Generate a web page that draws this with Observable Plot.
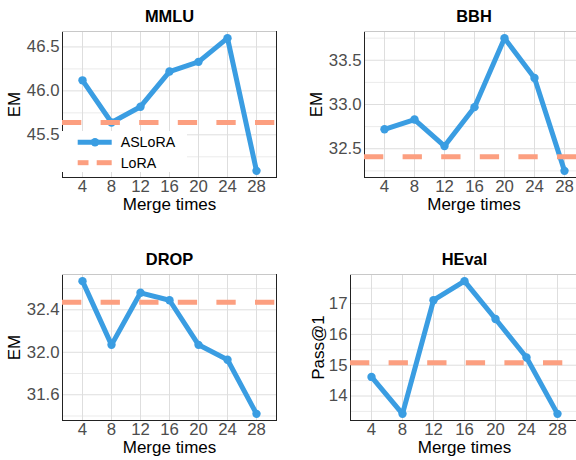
<!DOCTYPE html>
<html>
<head>
<meta charset="utf-8">
<script src="https://cdn.jsdelivr.net/npm/d3@7"></script>
<script src="https://cdn.jsdelivr.net/npm/@observablehq/plot@0.6"></script>
<style>
  body { margin: 0; background: #fff; }
  #wrap { position: relative; width: 576px; height: 460px; overflow: hidden; background: #fff;
          font-family: "Liberation Sans", Arial, sans-serif; }
  .panel { position: absolute; }
  .panel svg { max-width: none !important; }
  #legend { position: absolute; left: 62px; top: 131px; width: 125px; height: 41px; background: #fff; }
</style>
</head>
<body>
<div id="wrap"></div>
<script>
// ---- data ----
const merges = [4, 8, 12, 16, 20, 24, 28];

const mmlu = [46.12, 45.64, 45.82, 46.22, 46.33, 46.60, 45.09];
const mmluLora = 45.64;
const mmluTicks = [45.5, 46.0, 46.5];
const mmluMinor = [45.25, 45.75, 46.25];

const bbh = [32.72, 32.83, 32.53, 32.97, 33.75, 33.30, 32.25];
const bbhLora = 32.41;
const bbhTicks = [32.5, 33.0, 33.5];
const bbhMinor = [32.25, 32.75, 33.25, 33.75];

const drop = [32.67, 32.07, 32.56, 32.49, 32.07, 31.93, 31.42];
const dropLora = 32.47;
const dropTicks = [31.6, 32.0, 32.4];
const dropMinor = [31.4, 31.8, 32.2, 32.6];

const heval = [14.62, 13.42, 17.11, 17.73, 16.50, 15.25, 13.42];
const hevalLora = 15.08;
const hevalTicks = [14, 15, 16, 17];
const hevalMinor = [13.5, 14.5, 15.5, 16.5, 17.5];

const BLUE = "#3a9de2";
const SALMON = "#fc9f80";

function panel(o) {
  const rows = merges.map((m, i) => ({m, v: o.values[i]}));
  const ext = d3.extent([...o.values, o.lora]);
  const pad = (ext[1] - ext[0]) * 0.05;
  const domain = [ext[0] - pad, ext[1] + pad];
  const svg = Plot.plot({
    width: o.width, height: o.height,
    marginLeft: o.ml, marginRight: 12, marginTop: o.mt, marginBottom: o.height - o.mt - o.ph,
    style: {fontFamily: '"Liberation Sans", Arial, sans-serif', fontSize: "16.8px",
            background: "transparent", overflow: "visible", maxWidth: "none"},
    x: {type: "point", domain: merges, padding: 0.6},
    y: {domain},
    marks: [
      Plot.gridY(o.minor, {stroke: "#ebebeb", strokeOpacity: 1, strokeWidth: 1}),
      Plot.gridY(o.ticks, {stroke: "#dedede", strokeOpacity: 1, strokeWidth: 1}),
      Plot.gridX(merges, {stroke: "#dedede", strokeOpacity: 1, strokeWidth: 1}),
      Plot.frame({stroke: "#222", strokeWidth: 1}),
      Plot.ruleY([domain[1]], {stroke: "#c8c8c8", strokeWidth: 1}),
      Plot.axisY(o.ticks, {tickSize: 0, tickPadding: 3, fontSize: 16.8, fill: "#4d4d4d",
        tickFormat: o.fmt, label: null}),
      Plot.axisX({tickSize: 0, tickPadding: 3, fontSize: 16.8, fill: "#4d4d4d", label: null}),
      Plot.line(rows, {x: "m", y: "v", stroke: BLUE, strokeWidth: 5}),
      Plot.dot(rows, {x: "m", y: "v", r: 4.2, fill: BLUE, stroke: "none"}),
      Plot.ruleY([o.lora], {stroke: SALMON, strokeWidth: 5, strokeDasharray: "19.3,19.3"}),
      Plot.text([o.title], {frameAnchor: "top", lineAnchor: "middle", textAnchor: "middle", dy: -15,
        fontSize: 16.4, fontWeight: "bold", fill: "#000"}),
      Plot.text([o.ylabel], {frameAnchor: "left", lineAnchor: "middle", textAnchor: "middle", rotate: -90,
        dx: o.ydx, fontSize: 17, fill: "#000"}),
      Plot.text(["Merge times"], {frameAnchor: "bottom", lineAnchor: "middle", textAnchor: "middle", dy: 27,
        fontSize: 17, fill: "#000"})
    ]
  });
  svg.style.maxWidth = "none";
  const div = document.createElement("div");
  div.className = "panel";
  div.style.left = o.left + "px";
  div.style.top = o.top + "px";
  div.style.width = o.width + "px";
  div.style.height = o.height + "px";
  div.appendChild(svg);
  document.getElementById("wrap").appendChild(div);
}

const f1 = d3.format(".1f");
const f0 = d3.format("d");

panel({title: "MMLU", ylabel: "EM", values: mmlu, lora: mmluLora, ticks: mmluTicks, minor: mmluMinor, fmt: f1,
  left: 0, top: 0, width: 288, height: 220, ml: 62, mt: 31, ph: 146, ydx: -48});
panel({title: "BBH", ylabel: "EM", values: bbh, lora: bbhLora, ticks: bbhTicks, minor: bbhMinor, fmt: f1,
  left: 288, top: 0, width: 307, height: 220, ml: 76, mt: 31, ph: 146, ydx: -48});
panel({title: "DROP", ylabel: "EM", values: drop, lora: dropLora, ticks: dropTicks, minor: dropMinor, fmt: f1,
  left: 0, top: 230, width: 288, height: 230, ml: 62, mt: 44, ph: 146, ydx: -48});
panel({title: "HEval", ylabel: "Pass@1", values: heval, lora: hevalLora, ticks: hevalTicks, minor: hevalMinor, fmt: f0,
  left: 288, top: 230, width: 302, height: 230, ml: 62, mt: 44, ph: 146, ydx: -32});

// ---- legend (inside MMLU panel) ----
const legend = document.createElement("div");
legend.id = "legend";
legend.innerHTML = `
<svg width="125" height="41" style="font-family:'Liberation Sans', Arial, sans-serif">
  <line x1="15.7" x2="49.7" y1="11.3" y2="11.3" stroke="${BLUE}" stroke-width="5"/>
  <circle cx="33" cy="11.3" r="4.2" fill="${BLUE}"/>
  <text x="58.7" y="11.3" dy="0.35em" font-size="14.2" fill="#000">ASLoRA</text>
  <line x1="15.7" x2="26.5" y1="31.7" y2="31.7" stroke="${SALMON}" stroke-width="5"/>
  <line x1="34.7" x2="49.7" y1="31.7" y2="31.7" stroke="${SALMON}" stroke-width="5"/>
  <text x="58.7" y="31.7" dy="0.35em" font-size="14.2" fill="#000">LoRA</text>
</svg>`;
document.getElementById("wrap").appendChild(legend);
</script>
</body>
</html>
